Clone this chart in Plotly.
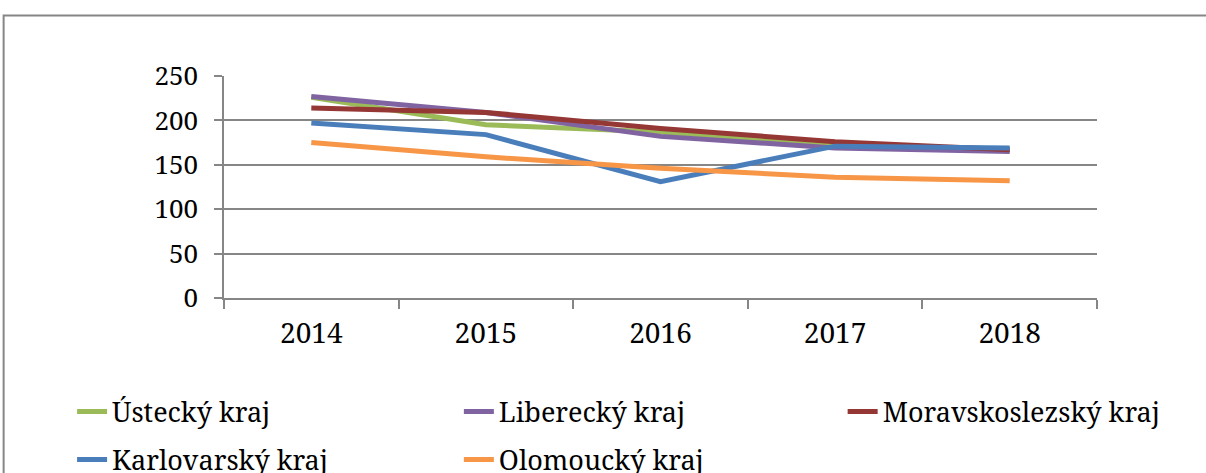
import plotly.graph_objects as go

years = ["2014", "2015", "2016", "2017", "2018"]
names = ["Ústecký kraj", "Liberecký kraj", "Moravskoslezský kraj", "Karlovarský kraj", "Olomoucký kraj"]
ustecky = [226, 195, 187, 173, 167]
liberecky = [227, 209, 182, 169, 165]
moravskoslezsky = [214, 209, 191, 176, 167]
karlovarsky = [197, 184, 131, 171, 169]
olomoucky = [175, 159, 146, 136, 132]
colors = ["#9BBB59", "#8064A2", "#953735", "#4A7EBB", "#F79646"]
series = [ustecky, liberecky, moravskoslezsky, karlovarsky, olomoucky]
y_ticks = [0, 50, 100, 150, 200, 250]

W, H = 1206, 473
L, R, T, B = 224, 1097.5, 76, 298
FONT = "Noto Serif"

def px_x(p):
    return (p - L) / (R - L)

def px_y(p):
    return (B - p) / (B - T)

# legend item text-start pixel positions (x, row-center y)
leg_pos = [(113, 412), (500, 412), (884, 412), (113, 460), (500, 460)]

fig = go.Figure()
layout_legends = {}
for i, (name, vals, col) in enumerate(zip(names, series, colors)):
    key = "legend" if i == 0 else f"legend{i + 1}"
    fig.add_trace(go.Scatter(x=years, y=vals, name=name, mode="lines",
                             line=dict(color=col, width=5), legend=key))
    tx, ty = leg_pos[i]
    layout_legends[key] = dict(x=px_x(tx - 41), xanchor="left", y=px_y(ty), yanchor="middle",
                               font=dict(family=FONT, size=27, color="black"),
                               bgcolor="rgba(0,0,0,0)", borderwidth=0)

grid = "#868686"
fig.update_layout(
    width=W, height=H,
    margin=dict(l=L, r=W - R, t=T, b=H - B, autoexpand=False),
    paper_bgcolor="white", plot_bgcolor="white",
    font=dict(family=FONT, size=28, color="black"),
    xaxis=dict(type="category", range=[-0.5, 4.5], tickson="boundaries", ticks="outside", ticklen=9,
               tickcolor=grid, tickwidth=1.5, showline=True, linecolor=grid, linewidth=1.5,
               showgrid=False, tickfont=dict(family=FONT, size=28), ticklabelstandoff=10),
    yaxis=dict(range=[0, 250], tickvals=y_ticks, ticks="outside", ticklen=8,
               tickcolor=grid, tickwidth=1.5, showline=True, linecolor=grid, linewidth=1.5,
               showgrid=True, gridcolor=grid, gridwidth=1.5, zeroline=False,
               tickfont=dict(family=FONT, size=26), ticklabelstandoff=11),
    showlegend=True,
    shapes=[dict(type="rect", xref="paper", yref="paper",
                 x0=px_x(3.5), x1=px_x(1215), y0=px_y(15.5), y1=px_y(490),
                 line=dict(color=grid, width=2), fillcolor="rgba(0,0,0,0)", layer="below")],
    **layout_legends,
)

fig.write_html("out.html", config={"displayModeBar": False},
               post_script="document.body.style.margin='0';")
